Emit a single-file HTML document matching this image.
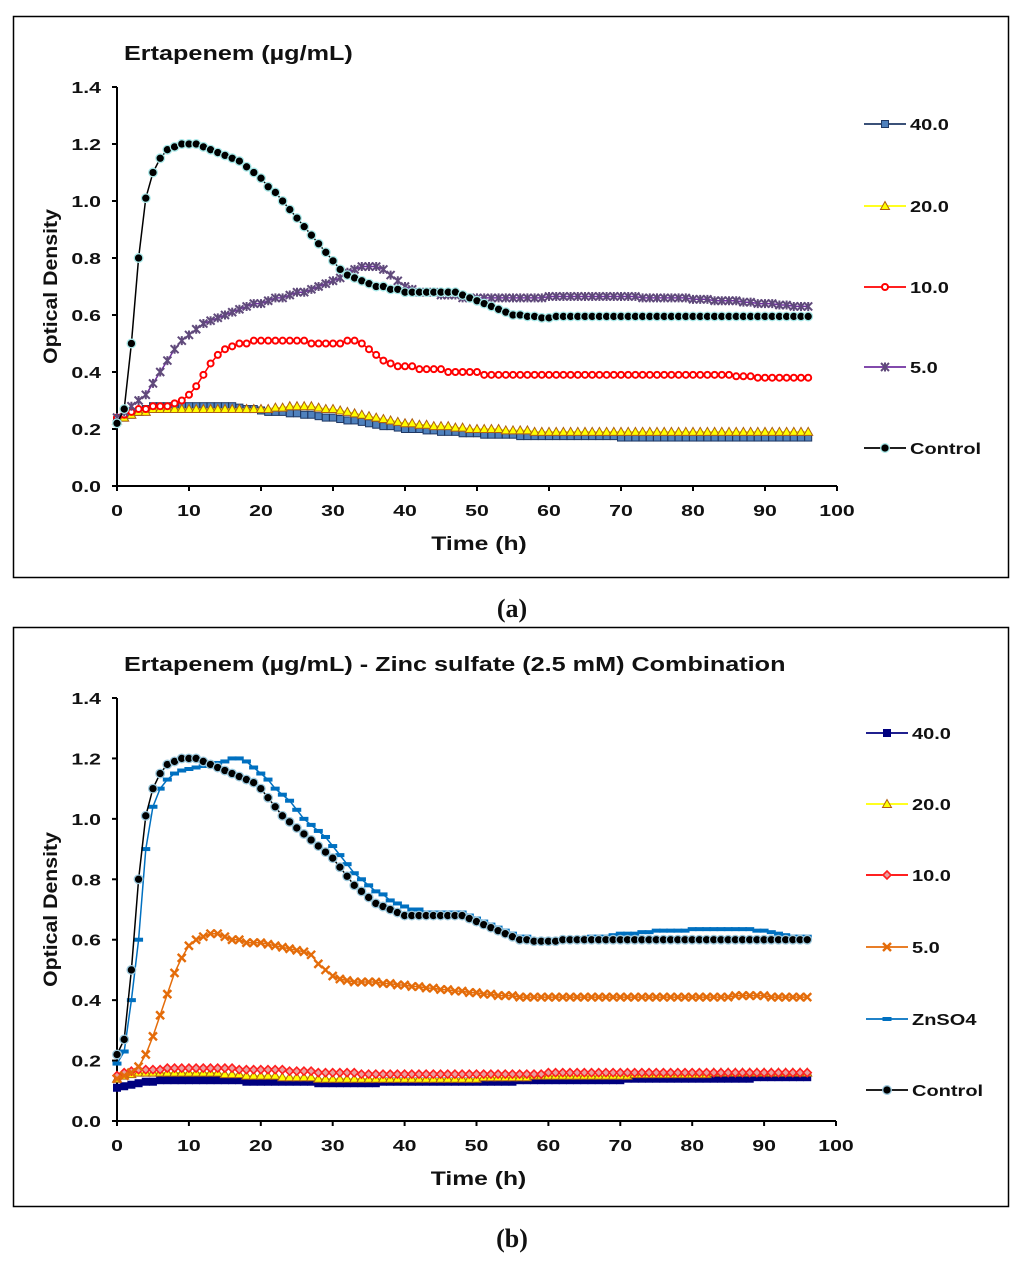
<!DOCTYPE html>
<html><head><meta charset="utf-8"><style>
html,body{margin:0;padding:0;background:#fff}
svg{display:block}
text{font-family:"Liberation Sans",Arial,sans-serif;font-weight:bold;fill:#111}
</style></head><body>
<svg id="svg" width="1024" height="1263" viewBox="0 0 1024 1263" xmlns="http://www.w3.org/2000/svg">
<rect x="13.5" y="16.5" width="995" height="561" fill="#fff" stroke="#000" stroke-width="1.5"/>
<rect x="13.5" y="627.5" width="995" height="579" fill="#fff" stroke="#000" stroke-width="1.5"/>
<text transform="translate(124,60) scale(1.23,1)" font-size="20.5">Ertapenem (µg/mL)</text>
<text transform="translate(124,671) scale(1.23,1)" font-size="20.5">Ertapenem (µg/mL) - Zinc sulfate (2.5 mM) Combination</text>
<text x="512" y="617" font-size="26" text-anchor="middle" style="font-family:'Liberation Serif',serif">(a)</text>
<text x="512" y="1247" font-size="26" text-anchor="middle" style="font-family:'Liberation Serif',serif">(b)</text>
<g id="ga"></g><g id="gb"></g>
</svg>
<script>
// ---- Panel A data (hourly, 0..96 h) ----
const hoursA = [0,1,2,3,4,5,6,7,8,9,10,11,12,13,14,15,16,17,18,19,20,21,22,23,24,25,26,27,28,29,30,31,32,33,34,35,36,37,38,39,40,41,42,43,44,45,46,47,48,49,50,51,52,53,54,55,56,57,58,59,60,61,62,63,64,65,66,67,68,69,70,71,72,73,74,75,76,77,78,79,80,81,82,83,84,85,86,87,88,89,90,91,92,93,94,95,96];
const a40 = [.23,.24,.25,.26,.27,.28,.28,.28,.28,.28, .28,.28,.28,.28,.28,.28,.28,.275,.27,.27, .265,.26,.26,.26,.255,.255,.25,.25,.245,.24, .24,.235,.23,.23,.225,.22,.215,.21,.21,.205, .20,.20,.20,.195,.195,.19,.19,.19,.185,.185, .185,.18,.18,.18,.18,.18,.175,.175,.175,.175, .175,.175,.175,.175,.175,.175,.175,.175,.175,.175, .17,.17,.17,.17,.17,.17,.17,.17,.17,.17, .17,.17,.17,.17,.17,.17,.17,.17,.17,.17, .17,.17,.17,.17,.17,.17,.17];
const a20 = [.23,.24,.25,.26,.26,.27,.27,.27,.27,.27, .27,.27,.27,.27,.27,.27,.27,.27,.27,.27, .27,.27,.275,.275,.28,.28,.28,.28,.275,.27, .27,.265,.26,.255,.25,.245,.24,.235,.23,.225, .22,.22,.215,.215,.21,.21,.21,.205,.205,.20, .20,.20,.20,.20,.195,.195,.195,.195,.19,.19, .19,.19,.19,.19,.19,.19,.19,.19,.19,.19, .19,.19,.19,.19,.19,.19,.19,.19,.19,.19, .19,.19,.19,.19,.19,.19,.19,.19,.19,.19, .19,.19,.19,.19,.19,.19,.19];
const a10 = [.24,.25,.26,.27,.27,.28,.28,.28,.29,.30, .32,.35,.39,.43,.46,.48,.49,.50,.50,.51, .51,.51,.51,.51,.51,.51,.51,.50,.50,.50, .50,.50,.51,.51,.50,.48,.46,.44,.43,.42, .42,.42,.41,.41,.41,.41,.40,.40,.40,.40, .40,.39,.39,.39,.39,.39,.39,.39,.39,.39, .39,.39,.39,.39,.39,.39,.39,.39,.39,.39, .39,.39,.39,.39,.39,.39,.39,.39,.39,.39, .39,.39,.39,.39,.39,.39,.385,.385,.385,.38, .38,.38,.38,.38,.38,.38,.38];
const a5 = [.24,.26,.28,.30,.32,.36,.40,.44,.48,.51, .53,.55,.57,.58,.59,.60,.61,.62,.63,.64, .64,.65,.66,.66,.67,.68,.68,.69,.70,.71, .72,.73,.75,.76,.77,.77,.77,.76,.74,.72, .70,.69,.68,.68,.68,.67,.67,.67,.66,.66, .66,.66,.66,.66,.66,.66,.66,.66,.66,.66, .665,.665,.665,.665,.665,.665,.665,.665,.665,.665, .665,.665,.665,.66,.66,.66,.66,.66,.66,.66, .655,.655,.655,.65,.65,.65,.65,.645,.645,.64, .64,.64,.635,.635,.63,.63,.63];
const aCtrl = [.22,.27,.50,.80,1.01,1.10,1.15,1.18,1.19,1.20, 1.20,1.20,1.19,1.18,1.17,1.16,1.15,1.14,1.12,1.10, 1.08,1.05,1.03,1.00,.97,.94,.91,.88,.85,.82, .79,.76,.74,.73,.72,.71,.70,.70,.69,.69, .68,.68,.68,.68,.68,.68,.68,.68,.67,.66, .65,.64,.63,.62,.61,.60,.60,.595,.595,.59, .59,.595,.595,.595,.595,.595,.595,.595,.595,.595, .595,.595,.595,.595,.595,.595,.595,.595,.595,.595, .595,.595,.595,.595,.595,.595,.595,.595,.595,.595, .595,.595,.595,.595,.595,.595,.595];
// ---- Panel B data ----
const b40 = [.11,.115,.12,.125,.13,.13,.135,.135,.135,.135, .135,.135,.135,.135,.135,.135,.135,.135,.13,.13, .13,.13,.13,.13,.13,.13,.13,.13,.125,.125, .125,.125,.125,.125,.125,.125,.125,.13,.13,.13, .13,.13,.13,.13,.13,.13,.13,.13,.13,.13, .13,.13,.13,.13,.13,.13,.135,.135,.135,.135, .135,.135,.135,.135,.135,.135,.135,.135,.135,.135, .135,.14,.14,.14,.14,.14,.14,.14,.14,.14, .14,.14,.14,.14,.14,.14,.14,.14,.14,.145, .145,.145,.145,.145,.145,.145,.145];
const b20 = [.14,.15,.155,.16,.16,.16,.16,.16,.16,.16, .16,.16,.16,.16,.16,.155,.155,.155,.15,.15, .15,.15,.15,.145,.145,.145,.145,.145,.14,.14, .14,.14,.14,.14,.14,.14,.14,.14,.14,.14, .14,.14,.14,.14,.14,.14,.14,.14,.14,.14, .14,.145,.145,.145,.145,.145,.145,.145,.15,.15, .15,.15,.15,.15,.15,.15,.15,.15,.15,.15, .15,.15,.155,.155,.155,.155,.155,.155,.155,.155, .155,.155,.155,.16,.16,.16,.16,.16,.16,.16, .16,.16,.16,.16,.16,.16,.16];
const b10 = [.15,.16,.165,.17,.17,.17,.17,.175,.175,.175, .175,.175,.175,.175,.175,.175,.175,.17,.17,.17, .17,.17,.17,.17,.165,.165,.165,.165,.16,.16, .16,.16,.16,.16,.155,.155,.155,.155,.155,.155, .155,.155,.155,.155,.155,.155,.155,.155,.155,.155, .155,.155,.155,.155,.155,.155,.155,.155,.155,.155, .16,.16,.16,.16,.16,.16,.16,.16,.16,.16, .16,.16,.16,.16,.16,.16,.16,.16,.16,.16, .16,.16,.16,.16,.16,.16,.16,.16,.16,.16, .16,.16,.16,.16,.16,.16,.16];
const b5 = [.14,.15,.16,.18,.22,.28,.35,.42,.49,.54, .58,.60,.61,.62,.62,.61,.60,.60,.59,.59, .59,.585,.58,.575,.57,.565,.56,.55,.52,.50, .48,.47,.465,.46,.46,.46,.46,.455,.455,.45, .45,.445,.445,.44,.44,.435,.435,.43,.43,.425, .425,.42,.42,.415,.415,.415,.41,.41,.41,.41, .41,.41,.41,.41,.41,.41,.41,.41,.41,.41, .41,.41,.41,.41,.41,.41,.41,.41,.41,.41, .41,.41,.41,.41,.41,.41,.415,.415,.415,.415, .415,.41,.41,.41,.41,.41,.41];
const bZn = [.19,.23,.40,.60,.90,1.04,1.10,1.13,1.15,1.16, 1.165,1.17,1.175,1.18,1.185,1.19,1.20,1.20,1.19,1.17, 1.15,1.13,1.10,1.08,1.06,1.03,1.00,.98,.96,.94, .91,.88,.85,.82,.80,.78,.76,.75,.73,.72, .71,.70,.70,.69,.69,.69,.69,.69,.69,.68, .67,.66,.65,.64,.63,.62,.61,.61,.60,.60, .60,.60,.60,.60,.605,.605,.61,.61,.61,.615, .62,.62,.62,.625,.625,.63,.63,.63,.63,.63, .635,.635,.635,.635,.635,.635,.635,.635,.635,.63, .63,.625,.62,.615,.61,.61,.61];
const bCtrl = [.22,.27,.50,.80,1.01,1.10,1.15,1.18,1.19,1.20, 1.20,1.20,1.19,1.18,1.17,1.16,1.15,1.14,1.13,1.12, 1.10,1.07,1.04,1.01,.99,.97,.95,.93,.91,.89, .87,.84,.81,.78,.76,.74,.72,.71,.70,.69, .68,.68,.68,.68,.68,.68,.68,.68,.68,.67, .66,.65,.64,.63,.62,.61,.60,.60,.595,.595, .595,.595,.60,.60,.60,.60,.60,.60,.60,.60, .60,.60,.60,.60,.60,.60,.60,.60,.60,.60, .60,.60,.60,.60,.60,.60,.60,.60,.60,.60, .60,.60,.60,.60,.60,.60,.60];
const yTicks = [0,0.2,0.4,0.6,0.8,1.0,1.2,1.4];
const yTickLabels = ["0.0","0.2","0.4","0.6","0.8","1.0","1.2","1.4"];
const xTicks = [0,10,20,30,40,50,60,70,80,90,100];

const NS="http://www.w3.org/2000/svg";
function mk(parent,tag,attrs){const e=document.createElementNS(NS,tag);for(const k in attrs)e.setAttribute(k,attrs[k]);parent.appendChild(e);return e;}
function stext(parent,x,y,sx,size,anchor,str){
  const t=mk(parent,'text',{transform:`translate(${x},${y}) scale(${sx},1)`,'font-size':size,'text-anchor':anchor});
  t.textContent=str;return t;
}

function marker(g,type,x,y,st){
  let e;
  if(type==='square'){e=mk(g,'rect',{x:x-3.5,y:y-3.5,width:7,height:7,fill:st.fill,stroke:st.edge,'stroke-width':1});}
  else if(type==='tri'){e=mk(g,'polygon',{points:`${x},${y-4.5} ${x+4.5},${y+3.5} ${x-4.5},${y+3.5}`,fill:st.fill,stroke:st.edge,'stroke-width':1});}
  else if(type==='diamond'){e=mk(g,'polygon',{points:`${x},${y-4} ${x+4},${y} ${x},${y+4} ${x-4},${y}`,fill:st.fill,stroke:st.edge,'stroke-width':1.6});}
  else if(type==='ring'){e=mk(g,'circle',{cx:x,cy:y,r:3,fill:st.fill,stroke:st.edge,'stroke-width':2});}
  else if(type==='star'){e=mk(g,'path',{d:`M${x-4},${y-4}L${x+4},${y+4}M${x-4},${y+4}L${x+4},${y-4}M${x},${y-4.5}L${x},${y+4.5}`,stroke:st.edge,'stroke-width':2,fill:'none'});}
  else if(type==='x'){e=mk(g,'path',{d:`M${x-4},${y-4}L${x+4},${y+4}M${x-4},${y+4}L${x+4},${y-4}`,stroke:st.edge,'stroke-width':2.4,fill:'none'});}
  else if(type==='dash'){e=mk(g,'rect',{x:x-4,y:y-1.5,width:8,height:3,fill:st.fill,stroke:st.edge,'stroke-width':1});}
  else if(type==='dot'){e=mk(g,'circle',{cx:x,cy:y,r:4.3,fill:'#000',stroke:st.edge,'stroke-width':1.3});}
  return e;
}

function drawPanel(gid,cfg){
  const g=document.getElementById(gid);
  const X=v=>cfg.x0+(cfg.x1-cfg.x0)*v/100;
  const Y=v=>cfg.y0-(cfg.y0-cfg.yt)*v/1.4;
  const ax=mk(g,'g',{});
  
  
  mk(ax,'line',{x1:X(0),y1:Y(1.4),x2:X(0),y2:Y(0),stroke:'#000','stroke-width':2});
  mk(ax,'line',{x1:X(0),y1:Y(0),x2:X(100),y2:Y(0),stroke:'#000','stroke-width':2});
  yTicks.forEach((t,i)=>{
    mk(ax,'line',{x1:X(0)-5,y1:Y(t),x2:X(0),y2:Y(t),stroke:'#000','stroke-width':2});
    const tx=stext(ax,X(0)-16,Y(t)+6,1.33,16,'end',yTickLabels[i]);
    
    
  });
  xTicks.forEach(t=>{
    mk(ax,'line',{x1:X(t),y1:Y(0),x2:X(t),y2:Y(0)+5,stroke:'#000','stroke-width':2});
    const tx=stext(ax,X(t),Y(0)+30,1.33,16,'middle',String(t));
    
    
  });
  const xl=stext(ax,(X(0)+X(100))/2+2,Y(0)+64,1.3,19,'middle','Time (h)');
  
  
  const yc=(Y(0)+Y(1.4))/2;
  const yl=mk(ax,'text',{'font-size':19,'text-anchor':'middle',transform:`translate(57,${yc}) rotate(-90) scale(1.12,1)`});
  yl.textContent='Optical Density';
  
  
  cfg.series.forEach((s,si)=>{
    const sg=mk(g,'g',{});
    
    
    const pts=s.data.map((v,i)=>X(hoursA[i]).toFixed(1)+','+Y(v).toFixed(1)).join(' ');
    mk(sg,'polyline',{points:pts,fill:'none',stroke:s.line,'stroke-width':s.lw||1.5});
    s.data.forEach((v,i)=>{
      const m=marker(sg,s.mk,X(hoursA[i]),Y(v),s);
      
      
    });
    const ly=cfg.legY[si];
    const lg=mk(g,'g',{});
    
    
    mk(lg,'line',{x1:cfg.lx,y1:ly,x2:cfg.lx+42,y2:ly,stroke:s.line,'stroke-width':1.8});
    marker(lg,s.mk,cfg.lx+21,ly,s);
    stext(lg,cfg.lx+46,ly+6,1.25,16,'start',s.label);
  });
}

drawPanel('ga',{p:'panel-a',x0:117,x1:837,y0:486,yt:87,lx:864,legY:[124,206,287,367,448],series:[
  {key:'40',label:'40.0',data:a40,mk:'square',fill:'#4f81bd',edge:'#1f3864',line:'#1f3864'},
  {key:'20',label:'20.0',data:a20,mk:'tri',fill:'#ffff00',edge:'#b06010',line:'#ffff00'},
  {key:'10',label:'10.0',data:a10,mk:'ring',fill:'#fff',edge:'#ff0000',line:'#ff0000'},
  {key:'5',label:'5.0',data:a5,mk:'star',fill:'none',edge:'#604a7b',line:'#7030a0'},
  {key:'control',label:'Control',data:aCtrl,mk:'dot',fill:'#000',edge:'#a8e8e8',line:'#000'}
]});
drawPanel('gb',{p:'panel-b',x0:117,x1:836,y0:1121,yt:698,lx:866,legY:[733,804,875,947,1019,1090],series:[
  {key:'40',label:'40.0',data:b40,mk:'square',fill:'#00007f',edge:'#00007f',line:'#00007f'},
  {key:'20',label:'20.0',data:b20,mk:'tri',fill:'#ffff00',edge:'#b06010',line:'#ffff00'},
  {key:'10',label:'10.0',data:b10,mk:'diamond',fill:'#e8a0a0',edge:'#ff2020',line:'#ff0000'},
  {key:'5',label:'5.0',data:b5,mk:'x',fill:'none',edge:'#e46c0a',line:'#e46c0a'},
  {key:'znso4',label:'ZnSO4',data:bZn,mk:'dash',fill:'#0070c0',edge:'#0070c0',line:'#0070c0'},
  {key:'control',label:'Control',data:bCtrl,mk:'dot',fill:'#000',edge:'#9cc8dc',line:'#000'}
]});
</script>
</body></html>
